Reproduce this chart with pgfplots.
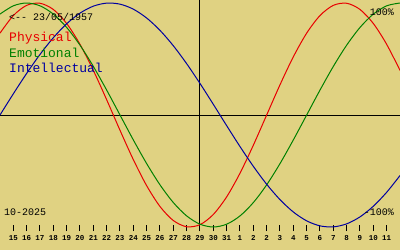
\documentclass[border=0pt]{standalone}
\usepackage{pgfplots}
\pgfplotsset{compat=1.18}
\usepackage{fontspec}
\newfontfamily\mono{Liberation Mono}
\definecolor{bg}{RGB}{224,210,130}
\definecolor{pred}{RGB}{232,0,0}
\definecolor{pgreen}{RGB}{0,128,0}
\definecolor{pblue}{RGB}{0,0,160}
\begin{document}
\begin{tikzpicture}
\fill[bg] (0pt,-19pt) rectangle (400pt,231pt);
\begin{axis}[
  at={(0pt,0pt)}, anchor=south west,
  scale only axis, width=400pt, height=231pt,
  xmin=0, xmax=30, ymin=-1.0357, ymax=1.02679,
  axis line style={draw=none},
  ytick=\empty,
  xtick={1,...,29},
  xticklabels={15,16,17,18,19,20,21,22,23,24,25,26,27,28,29,30,31,1,2,2,3,4,5,6,7,8,9,10,11},
  xtick pos=left,
  tick align=inside,
  major tick length=6pt,
  xtick style={black, line width=1pt},
  xticklabel style={font=\mono\bfseries\fontsize{7.5}{8}\selectfont, anchor=north, inner sep=0pt, yshift=-4.5pt},
]
\draw[black, line width=1pt] (axis cs:0,0) -- (axis cs:30,0);
\draw[black, line width=1pt] (axis cs:15,-1.0357) -- (axis cs:15,1.02679);
% Physical (23 days)
\addplot[pred, line width=1pt, smooth, mark=none] coordinates {
(0,0.7308)(1,0.8879)(2,0.9791)(3,0.9977)(4,0.9423)(5,0.8170)(6,0.6311)(7,0.3984)
(8,0.1362)(9,-0.1362)(10,-0.3984)(11,-0.6311)(12,-0.8170)(13,-0.9423)(14,-0.9977)
(15,-0.9791)(16,-0.8879)(17,-0.7308)(18,-0.5196)(19,-0.2698)(20,0)(21,0.2698)
(22,0.5196)(23,0.7308)(24,0.8879)(25,0.9791)(26,0.9977)(27,0.9423)(28,0.8170)
(29,0.6311)(30,0.3984)};
% Emotional (28 days)
\addplot[pgreen, line width=1pt, smooth, mark=none] coordinates {
(0,0.9010)(1,0.9749)(2,1)(3,0.9749)(4,0.9010)(5,0.7818)(6,0.6235)(7,0.4339)
(8,0.2225)(9,0)(10,-0.2225)(11,-0.4339)(12,-0.6235)(13,-0.7818)(14,-0.9010)
(15,-0.9749)(16,-1)(17,-0.9749)(18,-0.9010)(19,-0.7818)(20,-0.6235)(21,-0.4339)
(22,-0.2225)(23,0)(24,0.2225)(25,0.4339)(26,0.6235)(27,0.7818)(28,0.9010)
(29,0.9749)(30,1)};
% Intellectual (33 days)
\addplot[pblue, line width=1pt, smooth, mark=none] coordinates {
(0,0)(1,0.1893)(2,0.3717)(3,0.5406)(4,0.6901)(5,0.8146)(6,0.9096)(7,0.9718)
(8,0.9989)(9,0.9898)(10,0.9450)(11,0.8660)(12,0.7557)(13,0.6182)(14,0.4582)
(15,0.2817)(16,0.0951)(17,-0.0951)(18,-0.2817)(19,-0.4582)(20,-0.6182)(21,-0.7557)
(22,-0.8660)(23,-0.9450)(24,-0.9898)(25,-0.9989)(26,-0.9718)(27,-0.9096)(28,-0.8146)
(29,-0.6901)(30,-0.5406)};
\end{axis}
\node[anchor=west, inner sep=0pt, font=\mono\fontsize{10}{12}\selectfont] at (9pt,214pt) {<--~23/05/1957};
\node[anchor=west, inner sep=0pt, text=pred, font=\mono\fontsize{13}{15}\selectfont] at (9pt,193pt) {Physical};
\node[anchor=west, inner sep=0pt, text=pgreen, font=\mono\fontsize{13}{15}\selectfont] at (9pt,178pt) {Emotional};
\node[anchor=west, inner sep=0pt, text=pblue, font=\mono\fontsize{13}{15}\selectfont] at (9pt,163pt) {Intellectual};
\node[anchor=east, inner sep=0pt, font=\mono\fontsize{10}{12}\selectfont] at (394pt,219pt) {100\%};
\node[anchor=east, inner sep=0pt, font=\mono\fontsize{10}{12}\selectfont] at (394pt,19pt) {-100\%};
\node[anchor=west, inner sep=0pt, font=\mono\fontsize{10}{12}\selectfont] at (4pt,19pt) {10-2025};
\end{tikzpicture}
\end{document}
